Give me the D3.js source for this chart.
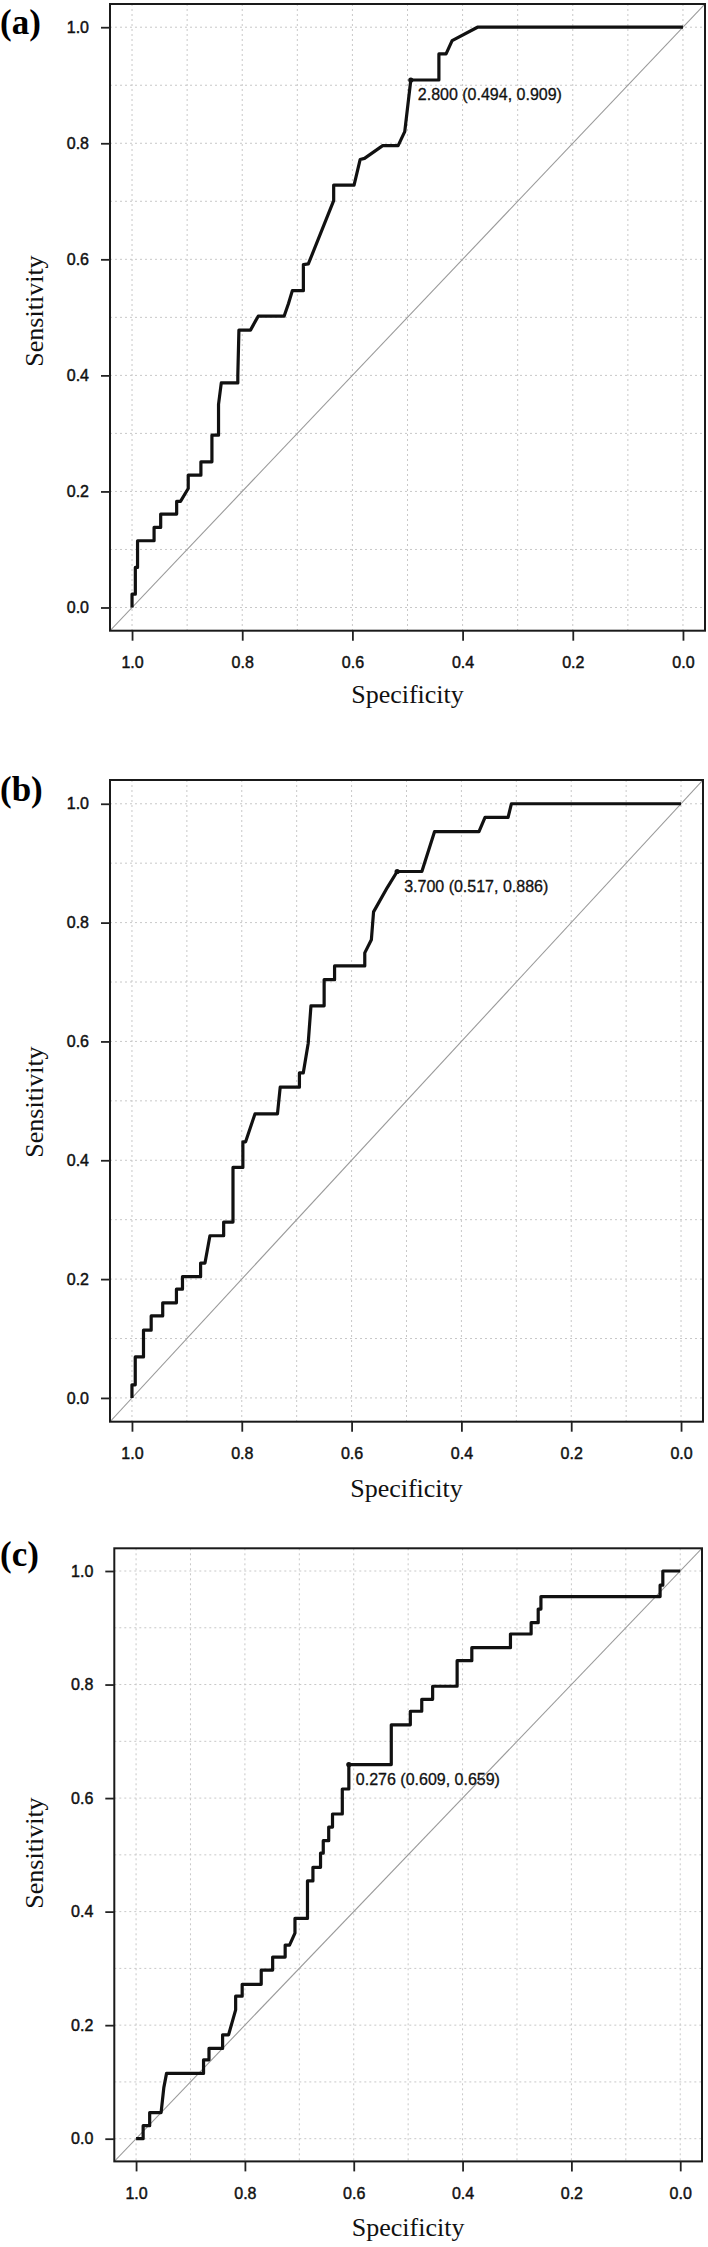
<!DOCTYPE html>
<html>
<head>
<meta charset="utf-8">
<script src="https://cdn.jsdelivr.net/npm/d3@7"></script>
<style>
  html, body { margin: 0; padding: 0; background: #fff; }
  svg { display: block; }
  .tick text { font-family: "Liberation Sans", Arial, sans-serif; font-size: 16px; fill: #111; stroke: #111; stroke-width: 0.45px; }
  .tick line { stroke: #222; stroke-width: 1.8; }
  .title { font-family: "Liberation Serif", "Times New Roman", serif; font-size: 26px; fill: #111; }
  .panel-label { font-family: "Liberation Serif", "Times New Roman", serif; font-size: 35px; font-weight: bold; fill: #000; }
  .cut-label { font-family: "Liberation Sans", Arial, sans-serif; font-size: 16px; fill: #111; stroke: #111; stroke-width: 0.3px; }
</style>
</head>
<body>
<svg id="chart" width="708" height="2247"></svg>
<script>
// ROC curve vertices (specificity, sensitivity)
const specA = [1.000, 1.000, 0.994, 0.994, 0.990, 0.990, 0.960, 0.960, 0.948, 0.948, 0.919, 0.919, 0.912, 0.898, 0.898, 0.875, 0.875, 0.855, 0.855, 0.843, 0.843, 0.838, 0.808, 0.808, 0.806, 0.785, 0.771, 0.724, 0.716, 0.709, 0.689, 0.689, 0.680, 0.634, 0.634, 0.597, 0.586, 0.578, 0.545, 0.517, 0.505, 0.494, 0.443, 0.443, 0.430, 0.419, 0.373, 0.000];
const sensA = [0.000, 0.023, 0.023, 0.069, 0.069, 0.115, 0.115, 0.138, 0.138, 0.161, 0.161, 0.183, 0.183, 0.205, 0.228, 0.228, 0.251, 0.251, 0.297, 0.297, 0.350, 0.387, 0.387, 0.400, 0.478, 0.478, 0.502, 0.502, 0.524, 0.546, 0.546, 0.591, 0.592, 0.701, 0.728, 0.728, 0.772, 0.774, 0.796, 0.796, 0.820, 0.909, 0.909, 0.954, 0.954, 0.977, 1.000, 1.000];

const specB = [1.000, 1.000, 0.994, 0.994, 0.979, 0.979, 0.965, 0.965, 0.944, 0.944, 0.919, 0.919, 0.908, 0.908, 0.875, 0.875, 0.867, 0.858, 0.833, 0.833, 0.816, 0.816, 0.798, 0.798, 0.793, 0.776, 0.735, 0.730, 0.695, 0.695, 0.688, 0.679, 0.674, 0.650, 0.650, 0.631, 0.631, 0.576, 0.576, 0.564, 0.560, 0.535, 0.517, 0.472, 0.449, 0.368, 0.357, 0.315, 0.309, 0.000];
const sensB = [0.000, 0.022, 0.022, 0.069, 0.069, 0.114, 0.114, 0.138, 0.138, 0.160, 0.160, 0.183, 0.183, 0.204, 0.204, 0.227, 0.227, 0.273, 0.273, 0.296, 0.296, 0.388, 0.388, 0.431, 0.431, 0.478, 0.478, 0.523, 0.523, 0.547, 0.547, 0.597, 0.660, 0.660, 0.704, 0.704, 0.727, 0.727, 0.749, 0.771, 0.818, 0.859, 0.886, 0.886, 0.953, 0.953, 0.977, 0.977, 1.000, 1.000];

const specC = [1.000, 0.987, 0.987, 0.975, 0.975, 0.954, 0.949, 0.944, 0.876, 0.876, 0.866, 0.866, 0.841, 0.841, 0.830, 0.817, 0.817, 0.805, 0.805, 0.770, 0.770, 0.749, 0.749, 0.726, 0.726, 0.718, 0.708, 0.708, 0.685, 0.685, 0.675, 0.675, 0.661, 0.661, 0.656, 0.656, 0.646, 0.646, 0.639, 0.639, 0.621, 0.621, 0.609, 0.609, 0.531, 0.531, 0.496, 0.496, 0.475, 0.475, 0.455, 0.455, 0.410, 0.410, 0.383, 0.383, 0.312, 0.312, 0.274, 0.274, 0.261, 0.261, 0.256, 0.256, 0.037, 0.037, 0.032, 0.032, 0.000];
const sensC = [0.000, 0.000, 0.023, 0.023, 0.046, 0.046, 0.090, 0.115, 0.115, 0.139, 0.139, 0.159, 0.159, 0.183, 0.183, 0.227, 0.251, 0.251, 0.272, 0.272, 0.297, 0.297, 0.320, 0.320, 0.341, 0.341, 0.362, 0.388, 0.388, 0.454, 0.454, 0.478, 0.478, 0.503, 0.503, 0.525, 0.525, 0.549, 0.549, 0.572, 0.572, 0.616, 0.616, 0.659, 0.659, 0.729, 0.729, 0.753, 0.753, 0.774, 0.774, 0.797, 0.797, 0.842, 0.842, 0.865, 0.865, 0.889, 0.889, 0.909, 0.909, 0.933, 0.933, 0.955, 0.955, 0.975, 0.975, 1.000, 1.000];

// best cut-off points
const panelLabels = ["(a)", "(b)", "(c)"];
const cutThresholds = ["2.800", "3.700", "0.276"];
const cutSpec = [0.494, 0.517, 0.609];
const cutSens = [0.909, 0.886, 0.659];

const tickVals = [0, 0.2, 0.4, 0.6, 0.8, 1.0];
const gridVals = [0, 0.1, 0.2, 0.3, 0.4, 0.5, 0.6, 0.7, 0.8, 0.9, 1.0];

const curves = [
    { spec: specA, sens: sensA },
    { spec: specB, sens: sensB },
    { spec: specC, sens: sensC }
];

// page layout of the three plot boxes
const layout = [
    { left: 110, top: 4, right: 705, bottom: 630.7, labelY: 34, ylabY: 311, xlabDy: 72 },
    { left: 110, top: 780, right: 703, bottom: 1421.7, labelY: 801, ylabY: 1102, xlabDy: 75 },
    { left: 114.3, top: 1548.3, right: 702, bottom: 2161.4, labelY: 1566, ylabY: 1853, xlabDy: 75 }
];

const svg = d3.select("#chart");
svg.append("rect").attr("width", 708).attr("height", 2247).attr("fill", "#fff");

layout.forEach((L, i) => {
    // R style 4% padding on both axes, specificity runs 1 -> 0
    const x = d3.scaleLinear().domain([1.04, -0.04]).range([L.left, L.right]);
    const y = d3.scaleLinear().domain([-0.04, 1.04]).range([L.bottom, L.top]);
    const g = svg.append("g");

    const clipId = "clip" + i;
    g.append("clipPath").attr("id", clipId)
        .append("rect")
        .attr("x", L.left).attr("y", L.top)
        .attr("width", L.right - L.left).attr("height", L.bottom - L.top);

    // grid
    g.selectAll(".vgrid").data(gridVals).enter().append("line")
        .attr("x1", d => x(d)).attr("x2", d => x(d))
        .attr("y1", L.top).attr("y2", L.bottom)
        .attr("stroke", "#c8c8c8").attr("stroke-width", 1).attr("stroke-dasharray", "2,3");
    g.selectAll(".hgrid").data(gridVals).enter().append("line")
        .attr("x1", L.left).attr("x2", L.right)
        .attr("y1", d => y(d)).attr("y2", d => y(d))
        .attr("stroke", "#c8c8c8").attr("stroke-width", 1).attr("stroke-dasharray", "2,3");

    // chance line
    g.append("line")
        .attr("clip-path", `url(#${clipId})`)
        .attr("x1", x(x.domain()[0])).attr("y1", y(y.domain()[0]))
        .attr("x2", x(x.domain()[1])).attr("y2", y(y.domain()[1]))
        .attr("stroke", "#9a9a9a").attr("stroke-width", 1.1);

    // ROC curve
    const c = curves[i];
    const pts = c.spec.map((s, k) => [s, c.sens[k]]);
    g.append("path")
        .datum(pts)
        .attr("d", d3.line().x(d => x(d[0])).y(d => y(d[1])))
        .attr("fill", "none")
        .attr("stroke", "#111")
        .attr("stroke-width", 3.2)
        .attr("stroke-linejoin", "round");

    // cut-off point + label
    g.append("circle")
        .attr("cx", x(cutSpec[i])).attr("cy", y(cutSens[i]))
        .attr("r", 2.6).attr("fill", "#111");
    g.append("text")
        .attr("class", "cut-label")
        .attr("x", x(cutSpec[i]) + 7)
        .attr("y", y(cutSens[i]) + 20)
        .text(`${cutThresholds[i]} (${cutSpec[i].toFixed(3)}, ${cutSens[i].toFixed(3)})`);

    // box
    g.append("rect")
        .attr("x", L.left).attr("y", L.top)
        .attr("width", L.right - L.left).attr("height", L.bottom - L.top)
        .attr("fill", "none").attr("stroke", "#1a1a1a").attr("stroke-width", 2);

    // axes
    const yAxis = g.append("g")
        .attr("transform", `translate(${L.left},0)`)
        .call(d3.axisLeft(y).tickValues(tickVals).tickFormat(d3.format(".1f")).tickSize(9).tickPadding(12));
    yAxis.select(".domain").remove();

    const xAxis = g.append("g")
        .attr("transform", `translate(0,${L.bottom})`)
        .call(d3.axisBottom(x).tickValues(tickVals).tickFormat(d3.format(".1f")).tickSize(10).tickPadding(16));
    xAxis.select(".domain").remove();

    // titles
    g.append("text")
        .attr("class", "title")
        .attr("x", (L.left + L.right) / 2)
        .attr("y", L.bottom + L.xlabDy)
        .attr("text-anchor", "middle")
        .text("Specificity");
    g.append("text")
        .attr("class", "title")
        .attr("transform", `translate(43,${L.ylabY}) rotate(-90)`)
        .attr("text-anchor", "middle")
        .text("Sensitivity");

    svg.append("text")
        .attr("class", "panel-label")
        .attr("x", 0)
        .attr("y", L.labelY)
        .text(panelLabels[i]);
});
</script>
</body>
</html>
